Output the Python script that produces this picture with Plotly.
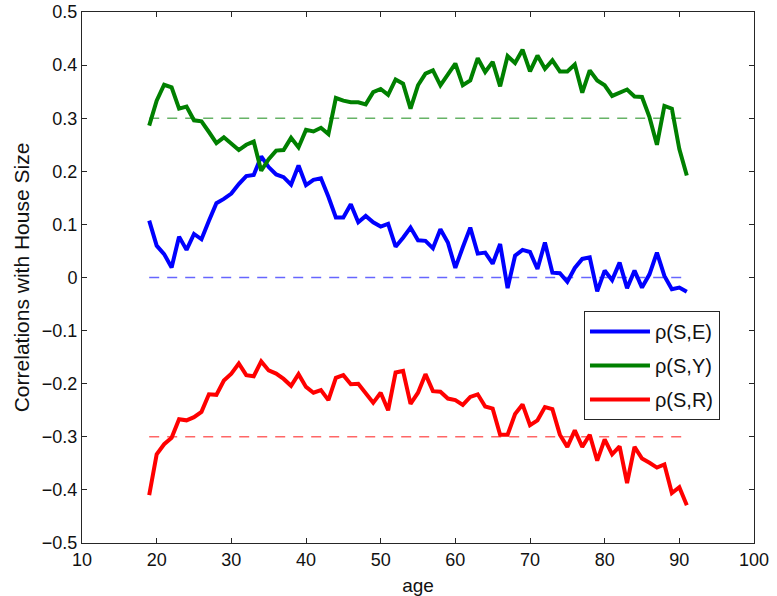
import plotly.graph_objects as go

ages = list(range(19, 92))

rho_SE = [0.107, 0.060, 0.044, 0.019, 0.077, 0.052, 0.082, 0.072, 0.107, 0.140,
          0.148, 0.158, 0.176, 0.191, 0.193, 0.228, 0.208, 0.194, 0.189, 0.175,
          0.211, 0.174, 0.184, 0.187, 0.152, 0.113, 0.113, 0.138, 0.104, 0.116,
          0.104, 0.096, 0.101, 0.058, 0.075, 0.094, 0.070, 0.069, 0.055, 0.091,
          0.066, 0.018, 0.057, 0.094, 0.045, 0.047, 0.026, 0.063, -0.020, 0.041,
          0.052, 0.048, 0.016, 0.066, 0.009, 0.008, -0.008, 0.018, 0.035, 0.038,
          -0.026, 0.013, -0.005, 0.028, -0.020, 0.013, -0.019, 0.006, 0.047, 0.003,
          -0.022, -0.019, -0.027]

rho_SY = [0.286, 0.333, 0.363, 0.358, 0.318, 0.322, 0.296, 0.294, 0.274, 0.253,
          0.264, 0.252, 0.240, 0.250, 0.256, 0.201, 0.223, 0.239, 0.240, 0.263,
          0.245, 0.278, 0.275, 0.282, 0.270, 0.338, 0.333, 0.330, 0.330, 0.326,
          0.349, 0.355, 0.344, 0.373, 0.365, 0.318, 0.362, 0.384, 0.390, 0.362,
          0.381, 0.403, 0.362, 0.371, 0.413, 0.387, 0.406, 0.360, 0.417, 0.404,
          0.429, 0.388, 0.418, 0.393, 0.409, 0.388, 0.388, 0.401, 0.348, 0.390,
          0.371, 0.362, 0.342, 0.349, 0.354, 0.341, 0.340, 0.302, 0.250, 0.323,
          0.318, 0.242, 0.192]

rho_SR = [-0.410, -0.333, -0.314, -0.302, -0.267, -0.269, -0.263, -0.253, -0.220, -0.221,
          -0.194, -0.181, -0.162, -0.184, -0.186, -0.158, -0.175, -0.181, -0.191, -0.204,
          -0.182, -0.206, -0.217, -0.212, -0.231, -0.189, -0.184, -0.201, -0.200, -0.217,
          -0.236, -0.217, -0.250, -0.179, -0.176, -0.238, -0.217, -0.182, -0.214, -0.215,
          -0.228, -0.231, -0.240, -0.225, -0.220, -0.243, -0.247, -0.296, -0.296, -0.257,
          -0.239, -0.278, -0.269, -0.244, -0.248, -0.296, -0.319, -0.288, -0.319, -0.296,
          -0.345, -0.305, -0.333, -0.318, -0.387, -0.319, -0.341, -0.349, -0.358, -0.352,
          -0.406, -0.395, -0.429]

ref_x = [19, 91]
ref_SE = [0.0, 0.0]
ref_SY = [0.3, 0.3]
ref_SR = [-0.3, -0.3]

series_names = ["ρ(S,E)", "ρ(S,Y)", "ρ(S,R)"]
series_colors = ["#0000ff", "#008000", "#ff0000"]
dash_colors = ["rgba(0,0,255,0.6)", "rgba(0,128,0,0.6)", "rgba(255,0,0,0.6)"]

x_ticks = [10, 20, 30, 40, 50, 60, 70, 80, 90, 100]
y_ticks = [-0.5, -0.4, -0.3, -0.2, -0.1, 0, 0.1, 0.2, 0.3, 0.4, 0.5]
y_ticktext = ["−0.5", "−0.4", "−0.3", "−0.2", "−0.1", "0", "0.1", "0.2", "0.3", "0.4", "0.5"]

FONT = "Liberation Sans, Arial"

fig = go.Figure()

for ref, c in zip([ref_SE, ref_SY, ref_SR], dash_colors):
    fig.add_trace(go.Scatter(x=ref_x, y=ref, mode="lines",
                             line=dict(color=c, width=1.5, dash="10px,8px"),
                             showlegend=False, hoverinfo="skip"))

for vals, name, c in zip([rho_SE, rho_SY, rho_SR], series_names, series_colors):
    fig.add_trace(go.Scatter(x=ages, y=vals, mode="lines", name=name, legendgroup=name,
                             line=dict(color=c, width=4)))

axis_common = dict(showgrid=False, zeroline=False, showline=True, linecolor="#262626",
                   linewidth=1, mirror="ticks", ticks="inside", ticklen=5,
                   tickcolor="#262626", tickfont=dict(family=FONT, size=18, color="#111"))

fig.update_xaxes(range=[10, 100], tickvals=x_ticks, automargin=False, **axis_common,
                 title=dict(text="age", font=dict(family=FONT, size=19, color="#111")))
fig.update_yaxes(range=[-0.5, 0.5], tickvals=y_ticks, ticktext=y_ticktext, automargin="left", **axis_common,
                 title=dict(text="Correlations with House Size", font=dict(family=FONT, size=21, color="#111"), standoff=6))

fig.update_layout(
    width=777, height=596,
    margin=dict(l=82, r=23, t=12, b=53),
    paper_bgcolor="white", plot_bgcolor="white",
    font=dict(family=FONT, size=18, color="#111"),
    legend=dict(x=0.747, y=0.437, xanchor="left", yanchor="top",
                bordercolor="#262626", borderwidth=1, bgcolor="white",
                font=dict(size=20, color="#111"), tracegroupgap=5,
                itemwidth=60),
    showlegend=True,
)

fig.write_html("out.html")
